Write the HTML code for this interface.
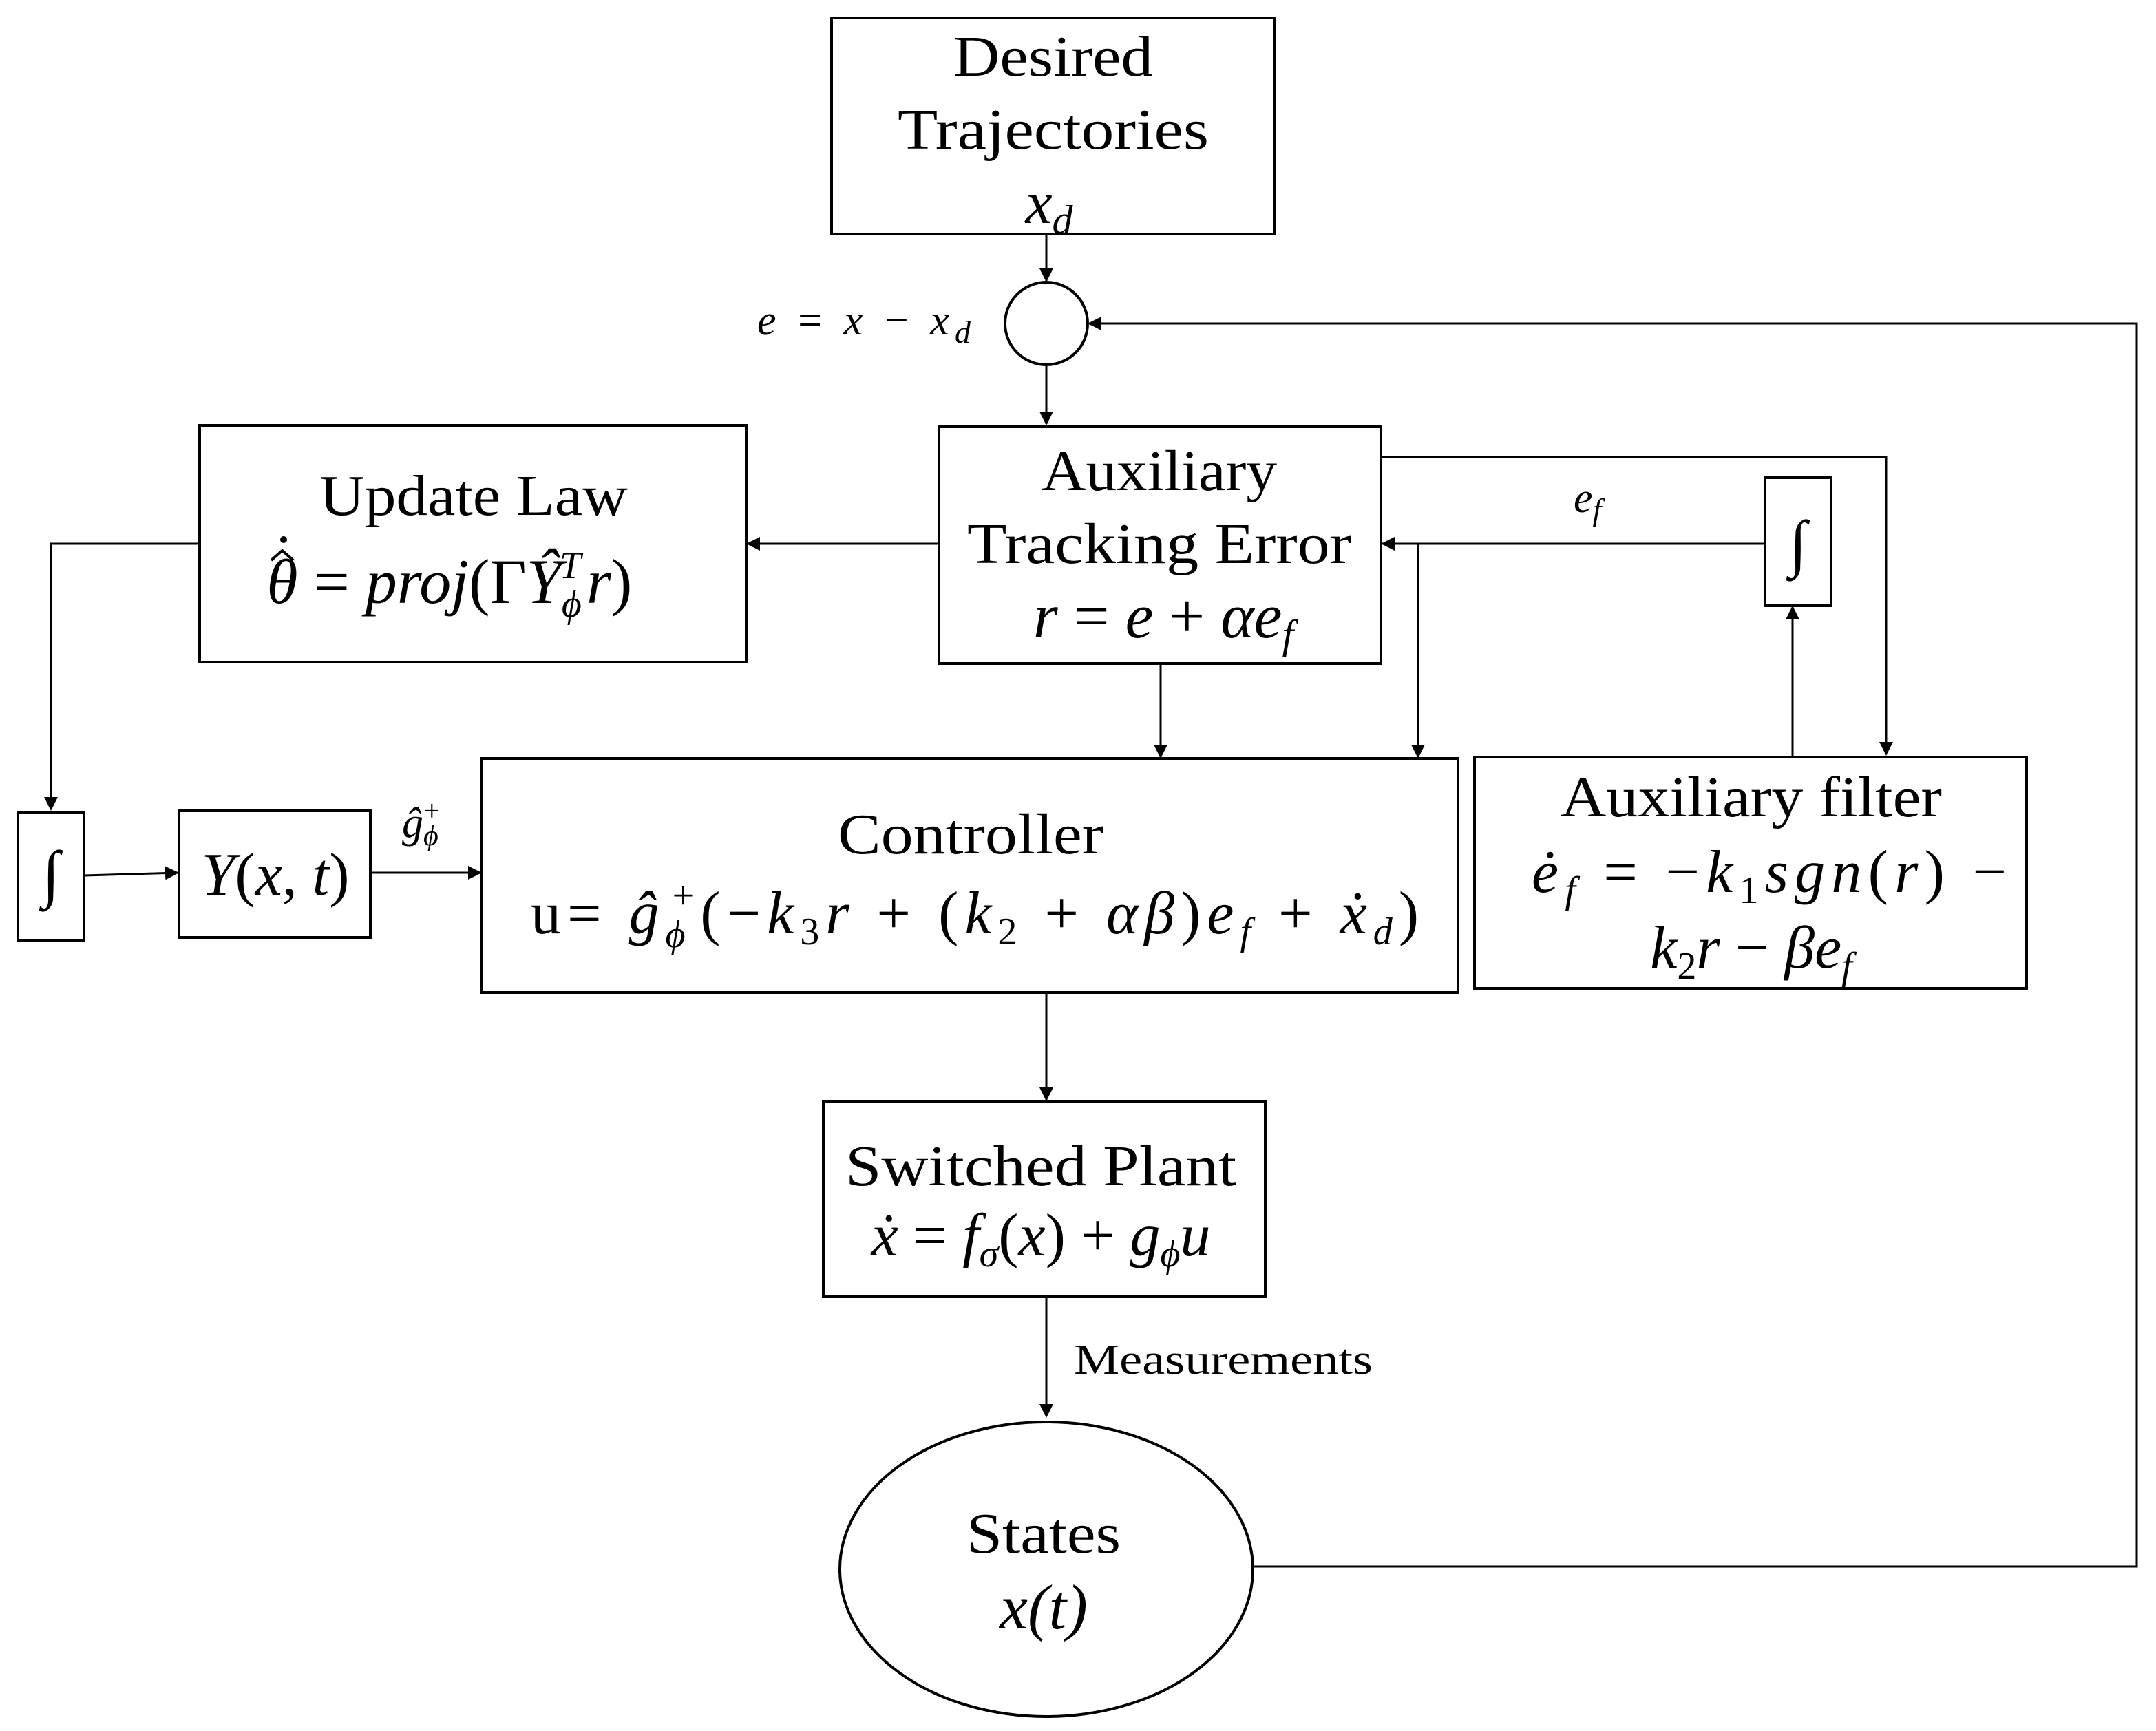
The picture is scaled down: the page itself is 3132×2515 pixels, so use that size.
<!DOCTYPE html>
<html><head><meta charset="utf-8">
<style>
html,body{margin:0;padding:0;background:#fff;}
svg{display:block;}
text{font-family:"Liberation Serif",serif;fill:#000;}
.m{font-style:italic;}
</style></head><body>
<svg width="3132" height="2515" viewBox="0 0 1566 1257.5" xmlns="http://www.w3.org/2000/svg">
<defs>
<marker id="a" markerWidth="10" markerHeight="10" refX="9" refY="5" orient="auto" markerUnits="userSpaceOnUse">
<path d="M0,0 L10,5 L0,10 z" fill="#000"/></marker>
</defs>
<g fill="none" stroke="#000" stroke-width="2">
<rect x="604" y="13" width="322" height="157"/>
<circle cx="760" cy="235" r="30"/>
<rect x="682" y="310" width="321" height="172"/>
<rect x="145" y="309" width="397" height="172"/>
<rect x="13" y="590" width="48" height="93"/>
<rect x="130" y="589" width="139" height="92"/>
<rect x="350" y="551" width="709" height="170"/>
<rect x="1282" y="347" width="48" height="93"/>
<rect x="1071" y="550" width="401" height="168"/>
<rect x="598" y="800" width="321" height="142"/>
<ellipse cx="760" cy="1140" rx="150" ry="107"/>
</g>
<g fill="none" stroke="#000" stroke-width="1.5" marker-end="url(#a)">
<line x1="760" y1="170" x2="760" y2="204"/>
<line x1="760" y1="265" x2="760" y2="308"/>
<line x1="682" y1="395" x2="543" y2="395"/>
<polyline points="145,395 37,395 37,588"/>
<line x1="61" y1="636" x2="129" y2="634"/>
<line x1="269" y1="634" x2="349" y2="634"/>
<line x1="843" y1="482" x2="843" y2="550"/>
<line x1="1282" y1="395" x2="1004" y2="395"/>
<polyline points="1030,395 1030,550"/>
<polyline points="1003,332 1370,332 1370,548"/>
<line x1="1302" y1="550" x2="1302" y2="441"/>
<line x1="760" y1="721" x2="760" y2="799"/>
<line x1="760" y1="942" x2="760" y2="1029"/>
<polyline points="910,1138 1552,1138 1552,235 791,235"/>
</g>
<!-- theta hat dot -->
<path d="M197,407 L205,400 L213,407" fill="none" stroke="#000" stroke-width="2"/>
<circle cx="206" cy="392" r="2.5" fill="#000"/>
<g font-size="42" text-anchor="middle">
<text x="765" y="55" textLength="145" lengthAdjust="spacingAndGlyphs">Desired</text>
<text x="765" y="108" textLength="226" lengthAdjust="spacingAndGlyphs">Trajectories</text>
<text x="762" y="162" class="m" font-size="44">x<tspan font-size="30" dy="8">d</tspan></text>
<text x="842" y="356" textLength="171" lengthAdjust="spacingAndGlyphs">Auxiliary</text>
<text x="842" y="409" textLength="279" lengthAdjust="spacingAndGlyphs">Tracking Error</text>
<text x="845" y="463" font-size="46"><tspan class="m">r</tspan> = <tspan class="m">e</tspan> + <tspan class="m">αe</tspan><tspan class="m" font-size="30" dy="8">f</tspan></text>
<text x="344" y="374" textLength="224" lengthAdjust="spacingAndGlyphs">Update Law</text>
<text x="205" y="438" class="m" font-size="46">θ</text>
<text x="228" y="438" font-size="46" text-anchor="start">= <tspan class="m">proj</tspan>(Γ<tspan class="m">Ŷ</tspan><tspan class="m" font-size="28" dy="10">ϕ</tspan><tspan class="m" font-size="28" dx="-16" dy="-28">T</tspan><tspan class="m" dx="4" dy="18">r</tspan>)</text>
<text x="37" y="650" font-size="46">∫</text>
<text x="1306" y="410" font-size="46">∫</text>
<text x="200" y="650" font-size="44"><tspan class="m">Y</tspan>(<tspan class="m">x</tspan>, <tspan class="m">t</tspan>)</text>
<text x="705" y="620" textLength="193" lengthAdjust="spacingAndGlyphs">Controller</text>
<text x="708" y="678" font-size="44" textLength="645" lengthAdjust="spacing">u= <tspan class="m">ĝ</tspan><tspan class="m" font-size="28" dy="10">ϕ</tspan><tspan font-size="28" dx="-14" dy="-28">+</tspan><tspan dy="18">(−</tspan><tspan class="m">k</tspan><tspan font-size="28" dy="8">3</tspan><tspan class="m" dy="-8">r</tspan> + (<tspan class="m">k</tspan><tspan font-size="28" dy="8">2</tspan><tspan dy="-8"> + </tspan><tspan class="m">αβ</tspan>)<tspan class="m">e</tspan><tspan class="m" font-size="28" dy="8">f</tspan><tspan dy="-8"> + </tspan><tspan class="m">ẋ</tspan><tspan class="m" font-size="28" dy="8">d</tspan><tspan dy="-8">)</tspan></text>
<text x="1272" y="593" textLength="277" lengthAdjust="spacingAndGlyphs">Auxiliary filter</text>
<text x="1285" y="648" font-size="44" textLength="345" lengthAdjust="spacing"><tspan class="m">ė</tspan><tspan class="m" font-size="28" dy="8">f</tspan><tspan dy="-8"> = −</tspan><tspan class="m">k</tspan><tspan font-size="28" dy="8">1</tspan><tspan class="m" dy="-8">sgn</tspan>(<tspan class="m">r</tspan>) −</text>
<text x="1272" y="703" font-size="44"><tspan class="m">k</tspan><tspan font-size="28" dy="8">2</tspan><tspan class="m" dy="-8">r</tspan> − <tspan class="m">βe</tspan><tspan class="m" font-size="28" dy="8">f</tspan></text>
<text x="756" y="861" textLength="284" lengthAdjust="spacingAndGlyphs">Switched Plant</text>
<text x="756" y="912" font-size="44"><tspan class="m">ẋ</tspan> = <tspan class="m">f</tspan><tspan class="m" font-size="28" dy="8">σ</tspan><tspan dy="-8">(</tspan><tspan class="m">x</tspan>) + <tspan class="m">g</tspan><tspan class="m" font-size="28" dy="8">ϕ</tspan><tspan class="m" dy="-8">u</tspan></text>
<text x="758" y="1128" textLength="112" lengthAdjust="spacingAndGlyphs">States</text>
<text x="758" y="1183" class="m" font-size="46">x(t)</text>
</g>
<g font-size="31">
<text x="550" y="243" textLength="155" lengthAdjust="spacing"><tspan class="m">e</tspan> = <tspan class="m">x</tspan> − <tspan class="m">x</tspan><tspan class="m" font-size="23" dy="6">d</tspan></text>
<text x="1143" y="372" class="m">e<tspan font-size="23" dy="6">f</tspan></text>
<text x="292" y="608" class="m">ĝ<tspan font-size="21" dy="6">ϕ</tspan><tspan font-size="21" dx="-12" dy="-18">+</tspan></text>
<text x="780" y="998" textLength="217" lengthAdjust="spacingAndGlyphs">Measurements</text>
</g>
</svg>
</body></html>
